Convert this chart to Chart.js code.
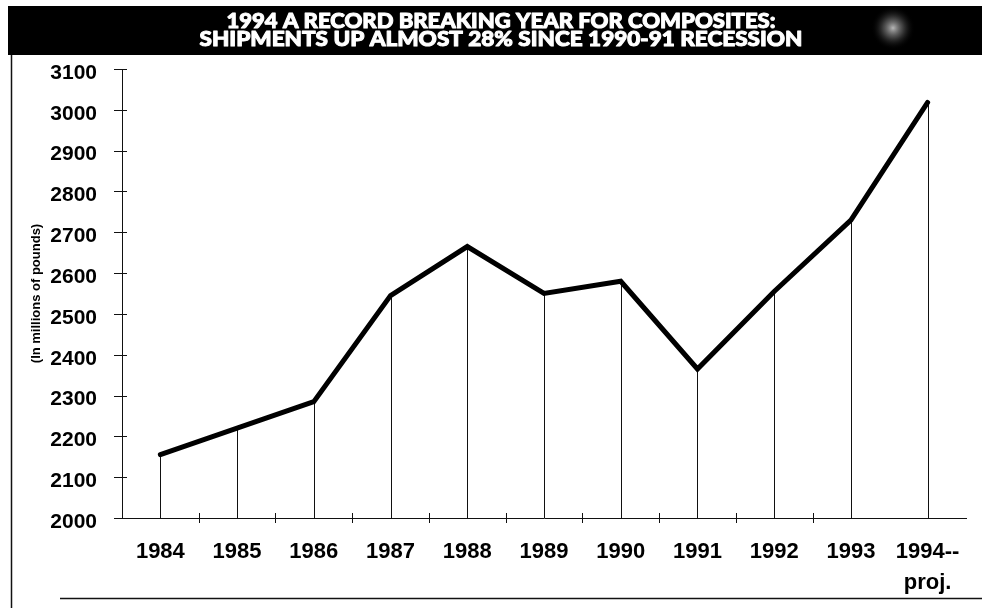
<!DOCTYPE html>
<html>
<head>
<meta charset="utf-8">
<script src="https://cdn.jsdelivr.net/npm/chart.js@4/dist/chart.umd.min.js"></script>
<style>
  html, body { margin: 0; padding: 0; background: #fff; }
  #wrap { width: 982px; height: 608px; position: relative; }
  canvas { display: block; }
</style>
</head>
<body>
<div id="wrap"><canvas id="c" width="982" height="608"></canvas></div>
<script>
// Composite shipments, millions of pounds
const years = ['1984', '1985', '1986', '1987', '1988', '1989', '1990', '1991', '1992', '1993', ['1994--', 'proj.']];
const shipments = [2155, 2220, 2285, 2545, 2665, 2550, 2580, 2365, 2555, 2730, 3018];
const yMin = 2000;
const yMax = 3100;
const yStep = 100;
const titleLines = [
  '1994 A RECORD BREAKING YEAR FOR COMPOSITES:',
  'SHIPMENTS UP ALMOST 28% SINCE 1990-91 RECESSION'
];
const yAxisTitle = '(In millions of pounds)';

const tickFont = '"Liberation Sans", Arial, Helvetica, sans-serif';

// Page frame, black headline banner and the cross-shaped tick marks
const decor = {
  id: 'decor',
  beforeDraw(chart) {
    const ctx = chart.ctx;
    ctx.save();
    ctx.fillStyle = '#fff';
    ctx.fillRect(0, 0, chart.width, chart.height);

    // frame lines
    ctx.strokeStyle = '#111';
    ctx.lineWidth = 1.5;
    ctx.beginPath(); ctx.moveTo(11.5, 55); ctx.lineTo(11.5, 608); ctx.stroke();
    ctx.beginPath(); ctx.moveTo(60, 598.5); ctx.lineTo(982, 598.5); ctx.stroke();

    // banner
    ctx.fillStyle = '#000';
    ctx.fillRect(8, 6, 974, 49);
    const g = ctx.createRadialGradient(893, 28, 0, 893, 28, 22);
    g.addColorStop(0, 'rgba(215,215,215,0.85)');
    g.addColorStop(0.45, 'rgba(140,140,140,0.45)');
    g.addColorStop(1, 'rgba(0,0,0,0)');
    ctx.fillStyle = g;
    ctx.fillRect(868, 6, 50, 49);

    // headline in a heavy face, fitted to the banner width
    ctx.fillStyle = '#fff';
    ctx.strokeStyle = '#fff';
    ctx.lineJoin = 'round';
    ctx.textAlign = 'center';
    ctx.textBaseline = 'alphabetic';
    ctx.font = '900 21px Lato, "DejaVu Sans", sans-serif';
    const widths = [549, 603];
    const baselines = [28, 46];
    titleLines.forEach((t, i) => {
      const w = ctx.measureText(t).width;
      ctx.save();
      ctx.translate(501, baselines[i]);
      ctx.scale(widths[i] / w, 1);
      ctx.lineWidth = 1.0;
      ctx.strokeText(t, 0, 0);
      ctx.fillText(t, 0, 0);
      ctx.restore();
    });
    ctx.restore();
  },
  beforeDatasetsDraw(chart) {
    const ctx = chart.ctx;
    const xs = chart.scales.x;
    const ys = chart.scales.y;
    const base = ys.getPixelForValue(yMin);
    ctx.save();
    ctx.strokeStyle = '#111';
    ctx.lineWidth = 1;

    // drop lines from each point to the axis
    shipments.forEach((v, i) => {
      const x = Math.round(xs.getPixelForValue(i)) + 0.5;
      ctx.beginPath();
      ctx.moveTo(x, ys.getPixelForValue(v));
      ctx.lineTo(x, base);
      ctx.stroke();
    });

    // y ticks: crosses straddling the axis
    const ax = xs.left;
    ys.ticks.forEach((t, i) => {
      const y = Math.round(ys.getPixelForTick(i)) + 0.5;
      ctx.beginPath();
      ctx.moveTo(ax - 8, y);
      ctx.lineTo(ax + 5, y);
      ctx.stroke();
    });

    // x ticks between categories
    const half = (xs.getPixelForValue(1) - xs.getPixelForValue(0)) / 2;
    for (let i = 0; i < years.length - 2; i++) {
      const x = Math.round(xs.getPixelForValue(i) + half) + 0.5;
      ctx.beginPath();
      ctx.moveTo(x, base - 5);
      ctx.lineTo(x, base + 5);
      ctx.stroke();
    }
    ctx.restore();
  }
};

new Chart(document.getElementById('c'), {
  type: 'line',
  data: {
    labels: years,
    datasets: [{
      data: shipments,
      borderColor: '#000',
      borderWidth: 5,
      pointRadius: 0,
      tension: 0,
      fill: false,
      borderJoinStyle: 'miter',
      borderCapStyle: 'round'
    }]
  },
  options: {
    responsive: false,
    animation: false,
    devicePixelRatio: 1,
    layout: { padding: { top: 69, right: 16, left: 0, bottom: 0 } },
    plugins: {
      legend: { display: false },
      tooltip: { enabled: false },
      title: { display: false }
    },
    scales: {
      x: {
        offset: true,
        grid: { display: false, drawTicks: false },
        border: { display: true, color: '#111', width: 1 },
        ticks: {
          color: '#000',
          font: { family: tickFont, size: 22, weight: 'bold', lineHeight: 1.4 },
          padding: 19,
          maxRotation: 0,
          autoSkip: false
        },
        afterFit(s) { s.height = 90; }
      },
      y: {
        min: yMin,
        max: yMax,
        grid: { display: false, drawTicks: false },
        border: { display: true, color: '#111', width: 1 },
        ticks: {
          stepSize: yStep,
          color: '#000',
          font: { family: tickFont, size: 21, weight: 'bold' },
          padding: 25,
          labelOffset: 4,
          callback: v => String(v)
        },
        title: {
          display: true,
          text: yAxisTitle,
          color: '#000',
          font: { family: tickFont, size: 13, weight: 'bold' },
          padding: { top: 29, bottom: 0 }
        },
        afterFit(s) { s.width = 122; }
      }
    }
  },
  plugins: [decor]
});
</script>
</body>
</html>
